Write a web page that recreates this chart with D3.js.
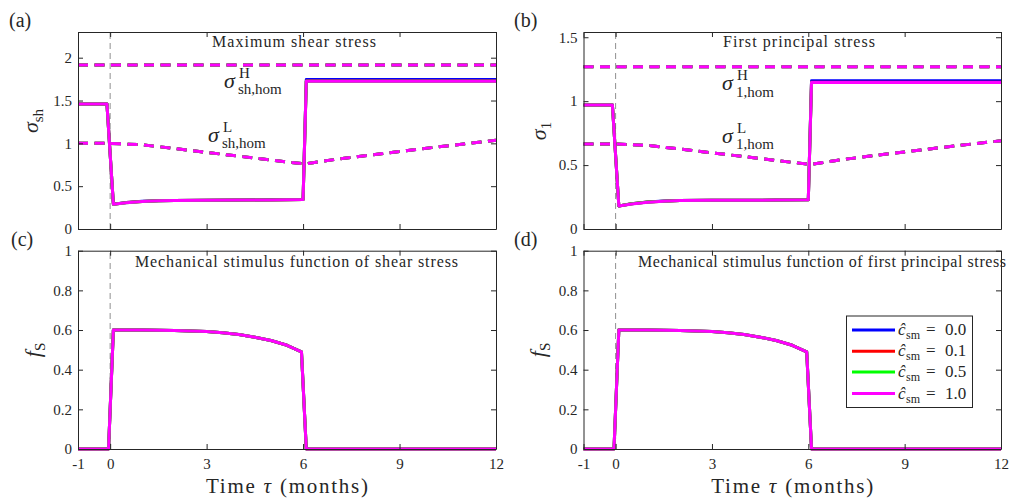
<!DOCTYPE html>
<html><head><meta charset="utf-8">
<script src="https://cdn.jsdelivr.net/npm/d3@7"></script>
<style>
body{margin:0;background:#fff}
svg{display:block}
svg text{font-family:"Liberation Serif","DejaVu Serif",Tinos,"Times New Roman",serif;fill:#262626}
</style>
</head><body>
<svg id="c" width="1011" height="502" font-family="Liberation Serif, DejaVu Serif, serif"></svg>
<script>
// ---------- data ----------
const xTicks = [-1, 0, 3, 6, 9, 12];
const xTickLabels = ["-1", "0", "3", "6", "9", "12"];
const yTicksShear = [0, 0.5, 1, 1.5, 2];
const yTicksPrincipal = [0, 0.5, 1, 1.5];
const yTicksStim = [0, 0.2, 0.4, 0.6, 0.8, 1];
const seriesNames = ["0.0", "0.1", "0.5", "1.0"];
const seriesColors = ["#0000ff", "#ff0000", "#00ff00", "#ff00ff"];

// solid stress curves (months)
const tSolid = [-1, -0.1, 0.1, 0.5, 1.0, 1.5, 2, 3, 4, 5, 6.0, 6.1, 12];
const shearC00 = [1.46, 1.46, 0.29, 0.31, 0.323, 0.331, 0.334, 0.337, 0.339, 0.341, 0.344, 1.745, 1.745];
const shearC01 = [1.46, 1.46, 0.29, 0.308, 0.321, 0.330, 0.333, 0.336, 0.338, 0.340, 0.343, 1.727, 1.727];
const shearC05 = [1.46, 1.46, 0.29, 0.307, 0.320, 0.329, 0.333, 0.336, 0.338, 0.340, 0.343, 1.726, 1.726];
const shearC10 = [1.46, 1.46, 0.29, 0.306, 0.320, 0.329, 0.333, 0.336, 0.338, 0.340, 0.343, 1.725, 1.725];
const principalC00 = [0.97, 0.97, 0.18, 0.198, 0.212, 0.219, 0.222, 0.224, 0.225, 0.226, 0.228, 1.160, 1.160];
const principalC01 = [0.97, 0.97, 0.18, 0.197, 0.211, 0.218, 0.222, 0.224, 0.225, 0.226, 0.228, 1.147, 1.147];
const principalC05 = [0.97, 0.97, 0.18, 0.197, 0.211, 0.218, 0.222, 0.224, 0.225, 0.226, 0.228, 1.146, 1.146];
const principalC10 = [0.97, 0.97, 0.18, 0.196, 0.210, 0.218, 0.222, 0.224, 0.225, 0.226, 0.228, 1.146, 1.146];

// homeostatic thresholds (dashed)
const tHigh = [-1, 12];
const shearHigh = [1.915, 1.915];
const principalHigh = [1.27, 1.27];
const tLow = [-1, 0, 1, 2, 3, 4, 5, 6, 6.1, 7, 8, 9, 10, 11, 12];
const shearLow = [1.0, 1.0, 0.983, 0.94, 0.895, 0.85, 0.805, 0.762, 0.762, 0.812, 0.86, 0.905, 0.95, 0.993, 1.035];
const principalLow = [0.665, 0.665, 0.654, 0.626, 0.596, 0.566, 0.536, 0.507, 0.507, 0.541, 0.573, 0.603, 0.633, 0.662, 0.69];

// mechanical stimulus function
const tStim = [-1, -0.05, 0.1, 1, 2, 3, 3.5, 4, 4.5, 5, 5.5, 5.95, 6.1, 12];
const stimShear = [0, 0, 0.6, 0.6, 0.598, 0.592, 0.586, 0.577, 0.564, 0.547, 0.523, 0.49, 0, 0];
const stimPrincipal = [0, 0, 0.6, 0.6, 0.598, 0.592, 0.586, 0.577, 0.564, 0.547, 0.523, 0.49, 0, 0];

const zip = (t, v) => t.map((d, i) => [d, v[i]]);

// ---------- drawing ----------
const svg = d3.select("#c");
const xDomain = [-1, 12];

function drawPanel(p) {
  const x = d3.scaleLinear().domain(xDomain).range([p.left, p.right]);
  const y = d3.scaleLinear().domain([0, p.yMax]).range([p.bottom, p.top]);
  const g = svg.append("g");
  const line = d3.line().x(d => x(d[0])).y(d => y(d[1]));

  g.append("line")
    .attr("x1", x(0)).attr("x2", x(0))
    .attr("y1", p.bottom).attr("y2", p.top)
    .attr("stroke", "#8f8f8f").attr("stroke-width", 1)
    .attr("stroke-dasharray", "6,4");

  (p.dashed || []).forEach(ds => {
    seriesColors.forEach(c => {
      g.append("path").datum(zip(ds.t, ds.v)).attr("d", line)
        .attr("fill", "none").attr("stroke", c).attr("stroke-width", 3)
        .attr("stroke-dasharray", "10,6.5");
    });
  });
  p.solid.forEach((vals, i) => {
    g.append("path").datum(zip(p.tSolid, vals)).attr("d", line)
      .attr("fill", "none").attr("stroke", seriesColors[i]).attr("stroke-width", 3)
      .attr("stroke-linejoin", "round");
  });

  const fmt = d => String(d);
  const axes = [
    d3.axisBottom(x).tickValues(xTicks).tickSizeInner(-5).tickSizeOuter(0).tickPadding(9)
      .tickFormat(p.xLabels ? ((d, i) => xTickLabels[i]) : () => ""),
    d3.axisTop(x).tickValues(xTicks).tickSizeInner(-5).tickSizeOuter(0).tickFormat(() => ""),
    d3.axisLeft(y).tickValues(p.yTicks).tickSizeInner(-5).tickSizeOuter(0).tickPadding(6).tickFormat(fmt),
    d3.axisRight(y).tickValues(p.yTicks).tickSizeInner(-5).tickSizeOuter(0).tickFormat(() => "")
  ];
  const trans = [`translate(0,${p.bottom})`, `translate(0,${p.top})`, `translate(${p.left},0)`, `translate(${p.right},0)`];
  axes.forEach((ax, i) => {
    const a = g.append("g").attr("transform", trans[i]).attr("color", "#262626").call(ax);
    a.attr("font-size", 15).attr("font-family", null);
    a.selectAll("line, path").attr("stroke", "#262626");
  });

  g.append("text").attr("x", p.titleX).attr("y", p.titleY)
    .attr("font-size", 16).attr("textLength", p.titleW).attr("lengthAdjust", "spacing")
    .text(p.title);

  g.append("text").attr("x", p.letterX).attr("y", p.letterY).attr("font-size", 20).text(p.letter);

  const yl = g.append("text")
    .attr("transform", `translate(${p.ylabX},${p.ylabY}) rotate(-90)`)
    .attr("text-anchor", "middle");
  yl.append("tspan").attr("font-style", "italic").attr("font-size", 22).text(p.ylabBase);
  yl.append("tspan").attr("font-size", 15).attr("dy", 5).text(p.ylabSub);

  if (p.xLabels) {
    g.append("text").attr("x", (p.left + p.right) / 2 - 81).attr("y", 493)
      .attr("font-size", 21).attr("textLength", 162).attr("lengthAdjust", "spacing")
      .html('Time <tspan font-style="italic">τ</tspan> (months)');
  }

  (p.notes || []).forEach(n => {
    g.append("text").attr("x", n.x).attr("y", n.y).attr("font-size", 22).attr("font-style", "italic").text("σ");
    g.append("text").attr("x", n.x + 15).attr("y", n.y - 10).attr("font-size", 15).text(n.sup);
    g.append("text").attr("x", n.x + 14).attr("y", n.y + 6.5).attr("font-size", 15).text(n.sub);
  });
  return {x, y, g};
}

const panels = [
  {letter: "(a)", letterX: 9, letterY: 27, left: 78, right: 496, top: 32, bottom: 229, yMax: 2.3,
   yTicks: yTicksShear, tSolid: tSolid, solid: [shearC00, shearC01, shearC05, shearC10],
   dashed: [{t: tHigh, v: shearHigh}, {t: tLow, v: shearLow}],
   title: "Maximum shear stress", titleX: 212, titleY: 47, titleW: 164,
   ylabBase: "σ", ylabSub: "sh", ylabX: 38, ylabY: 121,
   notes: [{x: 224, y: 87.5, sup: "H", sub: "sh,hom"}, {x: 208, y: 141.5, sup: "L", sub: "sh,hom"}]},
  {letter: "(b)", letterX: 514, letterY: 27, left: 583.5, right: 1001, top: 32, bottom: 229, yMax: 1.541,
   yTicks: yTicksPrincipal, tSolid: tSolid, solid: [principalC00, principalC01, principalC05, principalC10],
   dashed: [{t: tHigh, v: principalHigh}, {t: tLow, v: principalLow}],
   title: "First principal stress", titleX: 723, titleY: 47, titleW: 152,
   ylabBase: "σ", ylabSub: "1", ylabX: 546, ylabY: 131,
   notes: [{x: 722, y: 90, sup: "H", sub: "1,hom"}, {x: 722, y: 142.5, sup: "L", sub: "1,hom"}]},
  {letter: "(c)", letterX: 11, letterY: 246, left: 78, right: 496, top: 250.7, bottom: 449, yMax: 1,
   yTicks: yTicksStim, tSolid: tStim, solid: [stimShear, stimShear, stimShear, stimShear],
   title: "Mechanical stimulus function of shear stress", titleX: 135, titleY: 267, titleW: 323,
   ylabBase: "f", ylabSub: "S", ylabX: 40, ylabY: 350, xLabels: true},
  {letter: "(d)", letterX: 514, letterY: 246, left: 583.5, right: 1001, top: 250.7, bottom: 449, yMax: 1,
   yTicks: yTicksStim, tSolid: tStim, solid: [stimPrincipal, stimPrincipal, stimPrincipal, stimPrincipal],
   title: "Mechanical stimulus function of first principal stress", titleX: 638, titleY: 267, titleW: 368,
   ylabBase: "f", ylabSub: "S", ylabX: 545, ylabY: 350, xLabels: true}
];

panels.forEach(drawPanel);

// legend in panel (d)
const lg = svg.append("g");
lg.append("rect").attr("x", 846.5).attr("y", 316).attr("width", 126).attr("height", 91.5)
  .attr("fill", "#fff").attr("stroke", "#262626").attr("stroke-width", 1);
const rowY = [330, 351.3, 372, 393.5];
seriesNames.forEach((name, i) => {
  const yy = rowY[i];
  lg.append("line").attr("x1", 852).attr("x2", 895).attr("y1", yy).attr("y2", yy)
    .attr("stroke", seriesColors[i]).attr("stroke-width", 3);
  lg.append("text").attr("x", 898).attr("y", yy + 5).attr("font-size", 17).attr("font-style", "italic").text("ĉ");
  lg.append("text").attr("x", 906).attr("y", yy + 9).attr("font-size", 12).text("sm");
  lg.append("text").attr("x", 926).attr("y", yy + 5).attr("font-size", 17).text("=");
  lg.append("text").attr("x", 945).attr("y", yy + 5).attr("font-size", 17).text(name);
});
</script>
</body></html>
